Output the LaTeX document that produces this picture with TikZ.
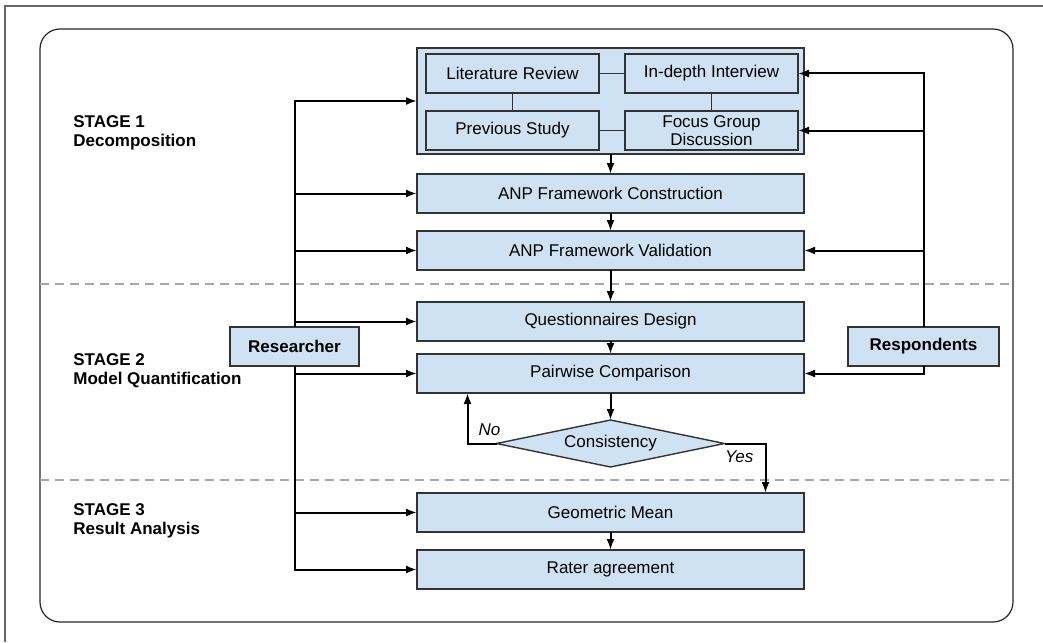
\documentclass[tikz,border=0pt]{standalone}
\usepackage{fontspec}
\setmainfont{Liberation Sans}
\usetikzlibrary{arrows.meta, positioning, shapes.geometric}
\definecolor{boxblue}{HTML}{CFE2F3}

\begin{document}
\begin{tikzpicture}[
    x=0.5pt, y=-0.5pt,
    node distance=9pt,
    every node/.style={font=\fontsize{8.5}{9.3}\selectfont},
    stepbox/.style={draw=black!80, line width=0.7pt, fill=boxblue, minimum height=19.5pt, minimum width=193.5pt, align=center, inner sep=1pt, outer sep=0pt},
    subbox/.style={stepbox, minimum width=86.5pt},
    actor/.style={stepbox, font=\fontsize{8.5}{9.3}\selectfont\bfseries},
    check/.style={diamond, draw=black!80, line width=0.7pt, fill=boxblue, aspect=4.85, minimum width=114pt, minimum height=23.5pt, inner sep=0pt, outer sep=0pt},
    stagelabel/.style={font=\fontsize{8.5}{9.3}\selectfont\bfseries, align=left, anchor=west, inner sep=0pt},
    answer/.style={font=\fontsize{8.5}{9.3}\selectfont\itshape},
    link/.style={draw=black!80, line width=0.6pt},
    arr/.style={-{Latex[length=5.5pt,width=4pt]}, line width=1pt},
    divider/.style={gray!70, dash pattern=on 4.5pt off 3pt, line width=0.7pt}
  ]
  \useasboundingbox (0,0) rectangle (1043,642);

  % --- Frames and stage dividers ---
  \draw[black!60, line width=1pt] (5,642) -- (5,6) -- (1043,6);
  \draw[black!85, line width=0.6pt, rounded corners=10pt] (40,29) rectangle (1013,622);
  \draw[divider] (40,284) -- (1010,284);
  \draw[divider] (40,480) -- (1010,480);

  % --- Stage labels ---
  \node[stagelabel] (stage1) at (73,133) {STAGE 1\\Decomposition};
  \node[stagelabel] (stage2) at (73,371) {STAGE 2\\Model Quantification};
  \node[stagelabel] (stage3) at (73,521) {STAGE 3\\Result Analysis};

  % --- Stage 1: sources ---
  \node[stepbox, minimum height=53pt] (sources) at (610.5,101) {};
  \node[subbox, anchor=north west] (litrev) at ([xshift=4.5pt, yshift=-3pt]sources.north west) {Literature Review};
  \node[subbox, right=13pt of litrev] (interview) {In-depth Interview};
  \node[subbox, below=9pt of litrev] (prevstudy) {Previous Study};
  \node[subbox, below=9pt of interview] (fgd) {Focus Group\\Discussion};

  % --- Main column ---
  \node[stepbox, below=10pt of sources] (construct) {ANP Framework Construction};
  \node[stepbox, below=9pt of construct] (validate) {ANP Framework Validation};
  \node[stepbox, below=16pt of validate] (quest) {Questionnaires Design};
  \node[stepbox, below=6.5pt of quest] (pairwise) {Pairwise Comparison};
  \node[check, below=13.5pt of pairwise] (consist) {Consistency};
  \node[stepbox, below=13pt of consist] (geomean) {Geometric Mean};
  \node[stepbox, below=9pt of geomean] (rater) {Rater agreement};

  % --- Actors ---
  \node[actor, minimum width=64.5pt] (researcher) at (294.5,346.5) {Researcher};
  \node[actor, minimum width=75.5pt] (respondents) at (923.5,346.5) {Respondents};

  % --- Links between sources ---
  \draw[link] (litrev) -- (interview);
  \draw[link] (prevstudy) -- (fgd);
  \draw[link] (litrev) -- (prevstudy);
  \draw[link] (interview) -- (fgd);

  % --- Flow ---
  \draw[arr] (sources) -- (construct);
  \draw[arr] (construct) -- (validate);
  \draw[arr] (validate) -- (quest);
  \draw[arr] (quest) -- (pairwise);
  \draw[arr] (pairwise) -- (consist);
  \draw[arr] (geomean) -- (rater);
  \draw[arr] (consist.west) -| node[answer, pos=0.12, above] (nolabel) {No} ([xshift=-71.5pt]pairwise.south);
  \draw[arr] (consist.east) -| node[answer, pos=0.18, below] (yeslabel) {Yes} ([xshift=77.5pt]geomean.north);

  % --- Researcher ---
  \draw[arr] (researcher.north) |- (sources.west);
  \draw[arr] (researcher.south) |- (rater.west);
  \foreach \target in {construct, validate, quest, pairwise, geomean}
    \draw[arr] (researcher.center |- \target.west) -- (\target.west);

  % --- Respondents ---
  \draw[arr] (respondents.north) |- (interview.east);
  \draw[arr] (respondents.south) |- (pairwise.east);
  \foreach \target in {fgd, validate}
    \draw[arr] (respondents.center |- \target.east) -- (\target.east);

\end{tikzpicture}
\end{document}
